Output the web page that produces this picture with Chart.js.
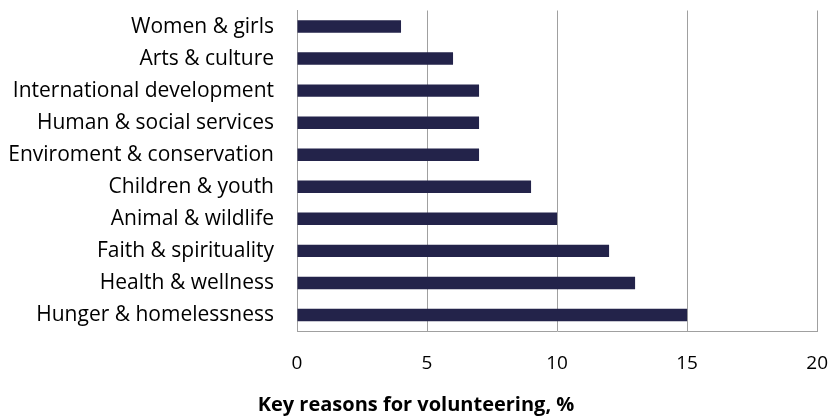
<!DOCTYPE html>
<html>
<head>
<meta charset="utf-8">
<script src="https://cdn.jsdelivr.net/npm/chart.js@4"></script>
<style>
  html, body { margin: 0; padding: 0; background: #fff; }
  #wrap { width: 832px; height: 417px; }
</style>
</head>
<body>
<div id="wrap"><canvas id="reasonsChart"></canvas></div>
<script>
// data
const causes = ['Women & girls', 'Arts & culture', 'International development', 'Human & social services',
    'Enviroment & conservation', 'Children & youth', 'Animal & wildlife', 'Faith & spirituality',
    'Health & wellness', 'Hunger & homelessness'];
const shares = [4, 6, 7, 7, 7, 9, 10, 12, 13, 15];
const axisTitle = 'Key reasons for volunteering, %';

const ctx = document.getElementById('reasonsChart').getContext('2d');

const reasonsChart = new Chart(ctx, {
    type: 'bar',
    data: {
        labels: causes,
        datasets: [{
            label: 'Share',
            data: shares,
            backgroundColor: '#23234a',
            barPercentage: 0.78,
            categoryPercentage: 0.5
        }]
    },
    options: {
        indexAxis: 'y',
        responsive: true,
        maintainAspectRatio: false,
        animation: false,
        layout: { padding: { top: 0, right: 0, bottom: 0, left: 0 } },
        plugins: {
            legend: { display: false },
            tooltip: { enabled: false },
            title: {
                display: true,
                position: 'bottom',
                text: axisTitle,
                color: '#000',
                padding: { top: 4, bottom: 0 },
                font: { family: 'Open Sans', size: 20, weight: 'bold', lineHeight: 1.2 }
            }
        },
        scales: {
            x: {
                min: 0,
                max: 20,
                ticks: {
                    stepSize: 5,
                    color: '#000',
                    padding: 4,
                    font: { family: 'Open Sans', size: 19, lineHeight: 1.2 }
                },
                grid: { color: '#a0a0a0', lineWidth: 1, drawTicks: true, tickLength: 17, tickColor: 'rgba(0,0,0,0)' },
                border: { display: true, color: '#a0a0a0' },
                afterFit: (scale) => { scale.height = 58; }
            },
            y: {
                ticks: {
                    color: '#000',
                    padding: 0,
                    font: { family: 'Open Sans', size: 21, lineHeight: 1 }
                },
                grid: { display: false, drawTicks: true, tickLength: 23 },
                border: { display: true, color: '#a0a0a0' },
                afterFit: (scale) => { scale.width = 297; }
            }
        }
    }
});
</script>
</body>
</html>
